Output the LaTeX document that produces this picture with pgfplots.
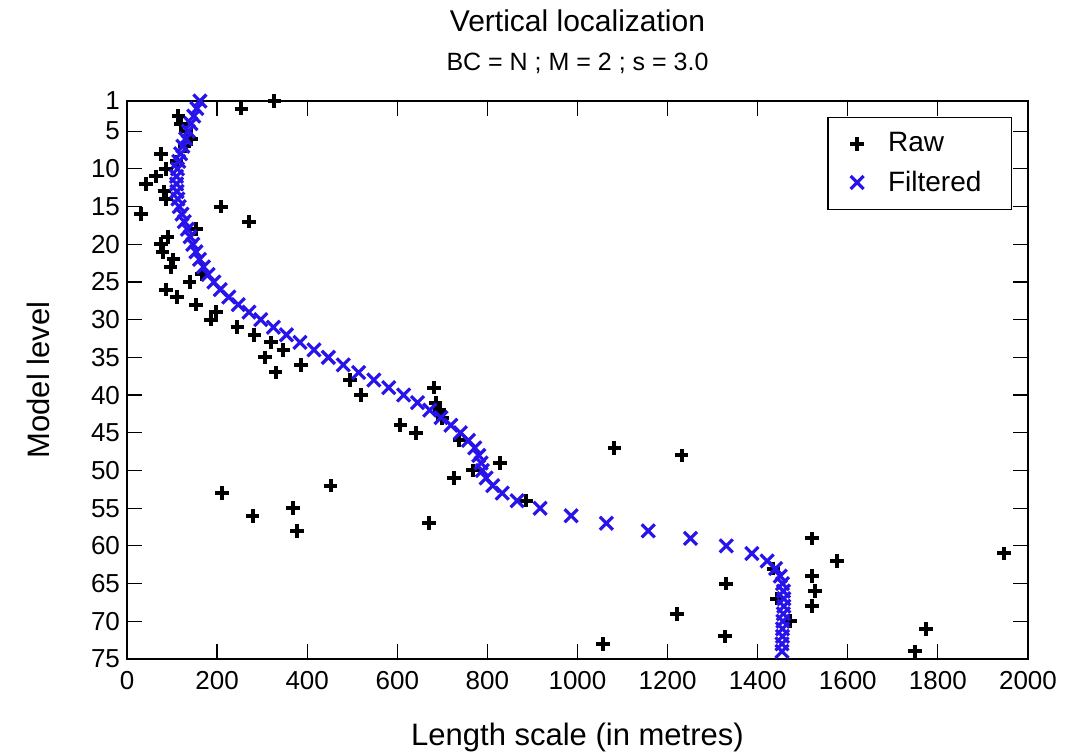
\documentclass[border=0pt]{standalone}
\usepackage{pgfplots}
\pgfplotsset{compat=1.18}
\usepackage{fontspec}
\setmainfont{Liberation Sans}
\definecolor{fblue}{RGB}{40,20,235}

\pgfplotstableread{
lev len
1 327
2 254
3 114
4 120
5 131
6 142
7 128
8 75
9 110
10 86
11 64
12 42
13 83
14 86
15 209
16 31
17 271
18 154
19 90
20 75
21 79
22 103
23 97
24 166
25 139
26 86
27 111
28 153
29 197
30 186
31 245
32 283
33 319
34 347
35 306
36 386
37 330
38 495
39 682
40 520
41 685
42 694
43 700
44 607
45 641
46 738
47 1082
48 1231
49 828
50 768
51 726
52 452
53 211
54 886
55 368
56 279
57 671
58 377
59 1520
61 1947
62 1576
63 1435
64 1520
65 1330
66 1527
67 1443
68 1520
69 1221
70 1472
71 1774
72 1328
73 1057
74 1749
}\rawdata

\pgfplotstableread{
lev len
1 162
2 155
3 148
4 142
5 136
6 130
7 124
8 119
9 115
10 112
11 110
12 110
13 111
14 113
15 116
16 122
17 127
18 134
19 140
20 146
21 153
22 161
23 170
24 180
25 193
26 207
27 226
28 247
29 271
30 297
31 325
32 354
33 384
34 415
35 447
36 480
37 514
38 548
39 581
40 614
41 645
42 672
43 697
44 719
45 740
46 758
47 772
48 781
49 786
50 789
51 797
52 812
53 833
54 866
55 917
56 986
57 1064
58 1157
59 1251
60 1330
61 1387
62 1421
63 1440
64 1450
65 1455
66 1457
67 1458
68 1458
69 1457
70 1456
71 1455
72 1455
73 1454
74 1454
}\filtdata

\begin{document}
\begin{tikzpicture}
\useasboundingbox (0,0) rectangle (539pt,376.5pt);
\begin{axis}[
  name=ax,
  at={(63.5pt,47pt)}, anchor=south west,
  scale only axis, width=450.5pt, height=279pt,
  xmin=0, xmax=2000, ymin=1, ymax=75, y dir=reverse,
  xtick={0,200,...,2000}, ytick={1,5,10,15,20,25,30,35,40,45,50,55,60,65,70,75},
  tick align=inside, major tick length=7.5pt,
  axis line style={line width=0.6pt},
  every tick/.style={line width=0.6pt, black},
  tick label style={font=\fontsize{13}{15}\selectfont},
  xticklabel style={yshift=-2.5pt},
  /pgf/number format/assume math mode=true,
  /pgf/number format/1000 sep={},
  scaled ticks=false,
  clip=false,
  legend style={at={(axis description cs:1,1)}, anchor=north east,
    xshift=-8pt, yshift=-8pt, draw=black, line width=0.6pt,
    font=\fontsize{14}{16}\selectfont, inner xsep=7pt, inner ysep=5.5pt,
    row sep=4pt, nodes={inner xsep=6pt}},
  legend image code/.code={\path[draw=none,fill=none] (0pt,-1pt) rectangle (17pt,1pt);
    \draw[mark repeat=2,mark phase=2,#1] plot coordinates {(0pt,0pt)(7.5pt,0pt)(17pt,0pt)};},
  legend cell align=left,
]
\addplot[only marks, mark=+, mark size=3.4pt, black, mark options={line width=2pt}]
  table[x=len, y=lev] {\rawdata};
\addlegendentry{Raw}
\addplot[only marks, mark=x, mark size=4.6pt, fblue, mark options={line width=1.6pt}]
  table[x=len, y=lev] {\filtdata};
\addlegendentry{Filtered\hspace*{2pt}}
\end{axis}
\node[font=\fontsize{15}{18}\selectfont] at ([yshift=40.3pt]ax.north) {Vertical localization};
\node[font=\fontsize{12.5}{15}\selectfont] at ([yshift=18.9pt]ax.north) {BC = N ; M = 2 ; s = 3.0};
\node[font=\fontsize{15.5}{18}\selectfont] at ([yshift=-39pt]ax.south) {Length scale (in metres)};
\node[font=\fontsize{15.5}{18}\selectfont, rotate=90] at ([xshift=-44.5pt]ax.west) {Model level};
\end{tikzpicture}
\end{document}
